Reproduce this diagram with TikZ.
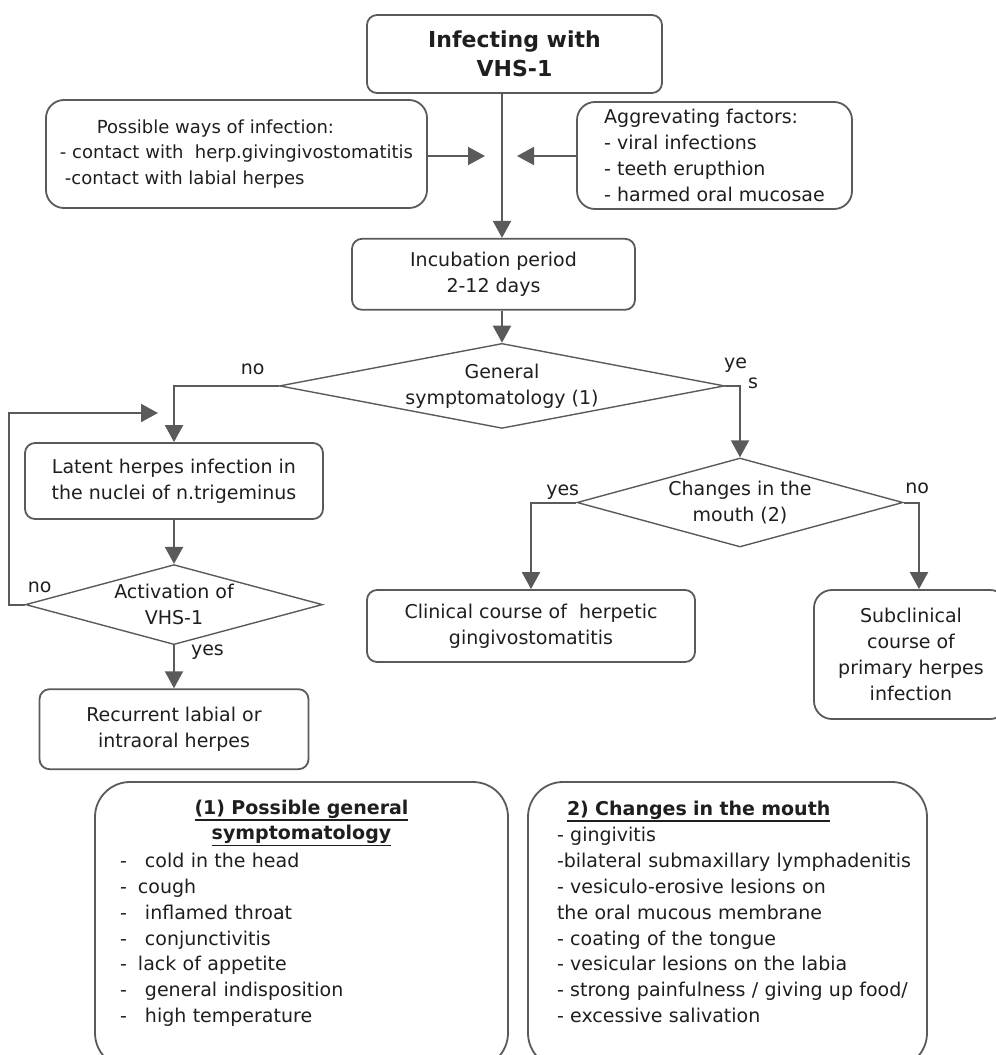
\documentclass[tikz,border=0pt]{standalone}
\usepackage{fontspec}
\setmainfont{DejaVu Sans}
\usepackage{xcolor}
\usepackage{tikz}
\usetikzlibrary{shapes.geometric,arrows.meta}
\usetikzlibrary{positioning}
\definecolor{ln}{HTML}{5A5A5A}
\definecolor{ink}{HTML}{1E1E1E}
\newcommand{\ulbold}[1]{\setbox0=\hbox{\bfseries #1}\rlap{\rule[-6.5pt]{\wd0}{1.6pt}}\box0}
\tikzset{box/.style={draw=ln, line width=1.8pt, rounded corners=10pt, text=ink, align=center, inner sep=0pt, font=\fontsize{19pt}{26pt}\selectfont}}
\tikzset{dec/.style={draw=ln, diamond, line width=1.4pt, text=ink, align=center, inner sep=0pt, font=\fontsize{19pt}{26pt}\selectfont}}
\tikzset{note/.style={draw=ln, line width=1.8pt, rounded corners=35pt, text=ink, align=left, inner ysep=18pt, font=\fontsize{19pt}{25.8pt}\selectfont}}
\tikzset{arr/.style={draw=ln, line width=2pt, -{Triangle[length=17pt,width=18pt]}}}
\tikzset{lab/.style={text=ink, inner sep=2pt, font=\fontsize{19pt}{26pt}\selectfont}}

\begin{document}
\begin{tikzpicture}[x=1pt, y=-1pt]
	\clip (0,0) rectangle (996,1055);
	\node[box, minimum width=295pt, minimum height=78pt, font=\fontsize{22pt}{29pt}\selectfont\bfseries] (Inf) at (514.5,54) {Infecting with\\VHS-1};
	\node[box, align=left, rounded corners=18pt, minimum width=381pt, minimum height=108pt, font=\fontsize{18pt}{25.5pt}\selectfont] (Ways) at (236.5,154) {\hspace*{37pt}Possible ways of infection:\\- contact with\ \ herp.givingivostomatitis\\\hspace*{5pt}-contact with labial herpes};
	\node[box, align=left, rounded corners=18pt, minimum width=275pt, minimum height=107pt] (Aggr) at (714.5,155.5) {Aggrevating factors:\\- viral infections\\- teeth erupthion\\- harmed oral mucosae};
	\node[box, minimum width=283pt, minimum height=71pt] (Inc) [below=144pt of Inf, xshift=-21pt] {Incubation period\\2-12 days};
	\node[dec, aspect=5.24, minimum width=445pt, minimum height=85pt] (Gen) [below=32pt of Inc, xshift=8.5pt] {General\\symptomatology (1)};
	\node[box, minimum width=298pt, minimum height=76pt] (Lat) at (174,481) {Latent herpes infection in\\the nuclei of n.trigeminus};
	\node[dec, aspect=3.71, minimum width=297pt, minimum height=80pt] (Act) [below=44pt of Lat] {Activation of\\VHS-1};
	\node[box, minimum width=269pt, minimum height=80pt] (Rec) [below=43pt of Act] {Recurrent labial or\\intraoral herpes};
	\node[dec, aspect=3.66, minimum width=326pt, minimum height=89pt] (Chg) at (740,502.5) {Changes in the\\mouth (2)};
	\node[box, minimum width=328pt, minimum height=72pt] (Clin) at (531,626) {Clinical course of\ \ herpetic\\gingivostomatitis};
	\node[box, rounded corners=18pt, minimum width=194pt, minimum height=129pt] (Sub) at (911,654.5) {Subclinical\\course of\\primary herpes\\infection};
	\node[note, inner xsep=25pt, text width=363pt, text height=14pt, text depth=236pt, anchor=base] (Sym) at (301.5,814) {\makebox[\linewidth]{\ulbold{(1) Possible general}}\\
		\makebox[\linewidth]{\ulbold{symptomatology}}\\[2pt]
		\makebox[25pt][l]{-}cold in the head\\
		\makebox[18pt][l]{-}cough\\
		\makebox[25pt][l]{-}inflamed throat\\
		\makebox[25pt][l]{-}conjunctivitis\\
		\makebox[18pt][l]{-}lack of appetite\\
		\makebox[25pt][l]{-}general indisposition\\
		\makebox[25pt][l]{-}high temperature};
	\node[note, inner xsep=29pt, text width=341pt, text height=15pt, text depth=235pt, anchor=base] (Mth) at (727.5,815) {\hspace*{10pt}\ulbold{2) Changes in the mouth}\\[1pt]
		- gingivitis\\
		\mbox{-bilateral submaxillary lymphadenitis}\\
		- vesiculo-erosive lesions on\\
		the oral mucous membrane\\
		- coating of the tongue\\
		- vesicular lesions on the labia\\
		\mbox{- strong painfulness / giving up food/}\\
		- excessive salivation};
	
	\coordinate (WT) at (485,156);
	\coordinate (AT) at (517,156);
	\coordinate (LT) at (158,413);
	\draw[arr] (Inf.south -| Gen.north) -- (Inc.north -| Gen.north);
	\draw[arr] (Ways.east |- WT) -- (WT);
	\draw[arr] (Aggr.west |- AT) -- (AT);
	\draw[arr] (Inc.south -| Gen.north) -- (Gen.north);
	\draw[arr] (Gen.west) -| node[lab, pos=0.125, above, yshift=8pt] {no} (Lat.north);
	\draw[arr] (Gen.east) -| node[lab, pos=0.35, above, yshift=10pt] {ye} node[lab, pos=0.5, anchor=west, xshift=5pt, yshift=3pt] {s} (Chg.north);
	\draw[arr] (Lat.south) -- (Act.north);
	\draw[arr] (Act.south) -- node[lab, pos=0.16, anchor=west, xshift=14pt] {yes} (Rec.north);
	\draw[arr] (Act.west) node[lab, anchor=south west, yshift=9pt] {no} -- ++(-16,0) |- (LT);
	\draw[arr] (Chg.west) -| node[lab, pos=0.15, above] {yes} (Clin.north);
	\draw[arr] (Chg.east) -| node[lab, pos=0.44, above, yshift=6pt] {no} ([xshift=8pt]Sub.north);
\end{tikzpicture}
\end{document}
